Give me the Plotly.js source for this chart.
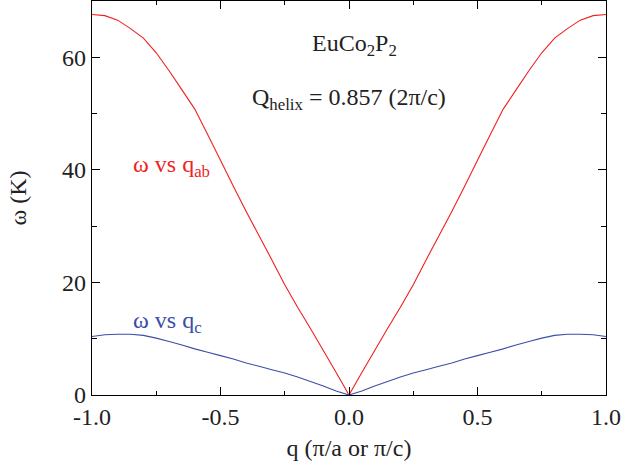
<!DOCTYPE html>
<html>
<head>
<meta charset="utf-8">
<script src="https://cdn.plot.ly/plotly-3.0.1.min.js"></script>
<style>html,body{margin:0;padding:0;background:#fff;}</style>
</head>
<body>
<div id="chart" style="width:626px;height:470px;"></div>
<script>
const q = [-1.0,-0.95,-0.9,-0.85,-0.8,-0.75,-0.7,-0.65,-0.6,-0.55,-0.5,-0.45,-0.4,-0.35,-0.3,-0.25,-0.2,-0.15,-0.1,-0.05,0.0,
           0.05,0.1,0.15,0.2,0.25,0.3,0.35,0.4,0.45,0.5,0.55,0.6,0.65,0.7,0.75,0.8,0.85,0.9,0.95,1.0];
const omegaAB = [67.6,67.4,66.6,65.1,63.4,60.8,57.6,54.2,50.8,46.3,41.7,37.1,32.6,28.3,24.0,19.6,15.6,11.8,7.9,4.0,0.0,
                 4.0,7.9,11.8,15.6,19.6,24.0,28.3,32.6,37.1,41.7,46.3,50.8,54.2,57.6,60.8,63.4,65.1,66.6,67.4,67.6];
const omegaC = [10.4,10.7,10.8,10.8,10.6,10.1,9.5,8.9,8.2,7.6,7.0,6.4,5.7,5.1,4.5,3.9,3.2,2.4,1.6,0.7,0.0,
                0.7,1.6,2.4,3.2,3.9,4.5,5.1,5.7,6.4,7.0,7.6,8.2,8.9,9.5,10.1,10.6,10.8,10.8,10.7,10.4];
const xTickVals = [-1.0,-0.5,0.0,0.5,1.0];
const xTickText = ['-1.0','-0.5','0.0','0.5','1.0'];
const yTickVals = [0,20,40,60];
const yTickText = ['0','20','40','60'];

const font = "'Liberation Serif', 'Times New Roman', serif";
const red = '#f21f1f';
const blue = '#3b4ea8';

const traces = [
  {x:q, y:omegaAB, type:'scatter', mode:'lines', line:{color:red, width:1.1, simplify:false}, hoverinfo:'skip'},
  {x:q, y:omegaC, type:'scatter', mode:'lines', line:{color:blue, width:1.1, simplify:false}, hoverinfo:'skip'}
];

const axBase = {
  showgrid:false, zeroline:false, showline:true, linecolor:'#000', linewidth:1.2,
  mirror:'ticks', ticks:'inside', ticklen:8, tickwidth:1, tickcolor:'#000',
  tickfont:{family:font, size:24, color:'#222'}
};

const layout = {
  width:626, height:470,
  margin:{l:92, r:20, t:1, b:75},
  paper_bgcolor:'#fff', plot_bgcolor:'#fff',
  showlegend:false,
  xaxis:Object.assign({}, axBase, {
    range:[-1,1], tickmode:'array', tickvals:xTickVals, ticktext:xTickText,
    minor:{dtick:0.25, ticks:'inside', ticklen:4, tickcolor:'#000', showgrid:false},
    title:{text:'q (π/a or π/c)', font:{family:font, size:24, color:'#222'}, standoff:10}
  }),
  yaxis:Object.assign({}, axBase, {
    range:[0,70], tickmode:'array', tickvals:yTickVals, ticktext:yTickText,
    minor:{dtick:10, ticks:'inside', ticklen:5, tickcolor:'#000', showgrid:false},
    title:{text:'ω (K)', font:{family:font, size:24, color:'#222'}, standoff:28}
  }),
  annotations:[
    {x:0.02, y:62.2, xref:'x', yref:'y', text:'EuCo<sub>2</sub>P<sub>2</sub>', showarrow:false,
     font:{family:font, size:24, color:'#222'}, xanchor:'center', yanchor:'middle'},
    {x:0.0, y:52.6, xref:'x', yref:'y', text:'Q<sub>helix</sub> = 0.857 (2π/c)', showarrow:false,
     font:{family:font, size:24, color:'#222'}, xanchor:'center', yanchor:'middle'},
    {x:-0.85, y:40.6, xref:'x', yref:'y', text:'ω vs q<sub>ab</sub>', showarrow:false,
     font:{family:font, size:24, color:red}, xanchor:'left', yanchor:'middle'},
    {x:-0.85, y:13.0, xref:'x', yref:'y', text:'ω vs q<sub>c</sub>', showarrow:false,
     font:{family:font, size:24, color:blue}, xanchor:'left', yanchor:'middle'}
  ]
};

Plotly.newPlot('chart', traces, layout, {staticPlot:true, displayModeBar:false});
</script>
</body>
</html>
